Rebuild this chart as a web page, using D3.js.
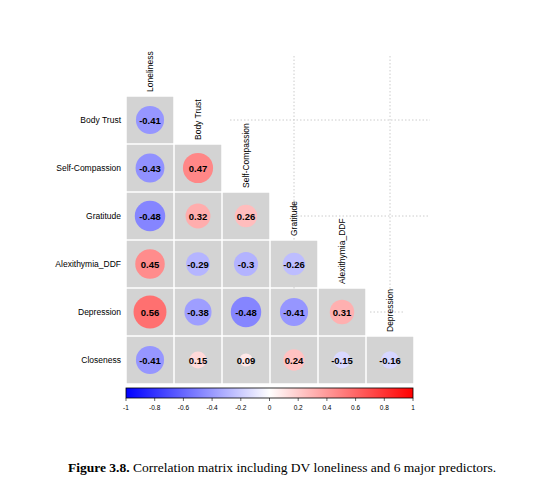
<!DOCTYPE html><html><head><script src="https://cdn.jsdelivr.net/npm/d3@7"></script>
<style>body{margin:0;background:#fff}</style></head><body><svg id="c" width="551" height="498"></svg>
<script>
const rowVars=["Body Trust","Self-Compassion","Gratitude","Alexithymia_DDF","Depression","Closeness"];
const colVars=["Loneliness","Body Trust","Self-Compassion","Gratitude","Alexithymia_DDF","Depression"];
const corr=[
[-0.41],
[-0.43,0.47],
[-0.48,0.32,0.26],
[0.45,-0.29,-0.3,-0.26],
[0.56,-0.38,-0.48,-0.41,0.31],
[-0.41,0.15,0.09,0.24,-0.15,-0.16]];
const legendTicks=[-1,-0.8,-0.6,-0.4,-0.2,0,0.2,0.4,0.6,0.8,1];
const svg=d3.select("#c");
const x=d3.scaleBand().domain(colVars).range([126,414]).padding(0);
const y=d3.scaleBand().domain(rowVars).range([96,384]);
const col=d3.scaleLinear().domain([-1,0,1]).range(["#0000ff","#ffffff","#ff0000"]);
const rad=d3.scaleSqrt().domain([0,1]).range([0,22]);
const dots=svg.append("g").attr("stroke","#ccc").attr("stroke-dasharray","1.5,2").attr("stroke-width",1);
dots.append("line").attr("x1",x(colVars[3])+24).attr("x2",x(colVars[3])+24).attr("y1",56).attr("y2",330);
dots.append("line").attr("x1",x(colVars[5])+24).attr("x2",x(colVars[5])+24).attr("y1",56).attr("y2",290);
dots.append("line").attr("x1",230).attr("x2",430).attr("y1",y(rowVars[0])+24).attr("y2",y(rowVars[0])+24);
dots.append("line").attr("x1",290).attr("x2",430).attr("y1",y(rowVars[2])+24).attr("y2",y(rowVars[2])+24);
dots.append("line").attr("x1",370).attr("x2",403).attr("y1",y(rowVars[4])+24).attr("y2",y(rowVars[4])+24);
corr.forEach((row,i)=>row.forEach((v,j)=>{
 const cx=x(colVars[j]),cy=y(rowVars[i]);
 svg.append("rect").attr("x",cx+0.75).attr("y",cy+0.75).attr("width",x.bandwidth()-1.5).attr("height",y.bandwidth()-1.5).attr("fill","#d3d3d3");
 svg.append("circle").attr("cx",cx+24).attr("cy",cy+24).attr("r",rad(Math.abs(v))).attr("fill",col(v));
 svg.append("text").attr("x",cx+24).attr("y",cy+27.5).attr("text-anchor","middle").attr("font-family","Liberation Sans, Arial").attr("font-size",9.5).attr("font-weight","bold").text(v);
}));
rowVars.forEach(r=>svg.append("text").attr("x",121).attr("y",y(r)+27).attr("text-anchor","end").attr("font-family","Liberation Sans, Arial").attr("font-size",8.5).text(r));
colVars.forEach((c,j)=>{const tx=x(c)+27,ty=96+48*j-4;
 svg.append("text").attr("transform",`translate(${tx},${ty}) rotate(-90)`).attr("font-family","Liberation Sans, Arial").attr("font-size",8.5).text(c);});
// legend
const lx=d3.scaleLinear().domain([-1,1]).range([126,413]);
const defs=svg.append("defs");const g=defs.append("linearGradient").attr("id","lg");
[-1,0,1].forEach(v=>g.append("stop").attr("offset",(v+1)/2).attr("stop-color",col(v)));
svg.append("rect").attr("x",126).attr("y",388).attr("width",287).attr("height",10).attr("fill","url(#lg)").attr("stroke","#000").attr("stroke-width",0.8);
legendTicks.forEach(t=>{
 svg.append("line").attr("x1",lx(t)).attr("x2",lx(t)).attr("y1",398).attr("y2",401).attr("stroke","#000").attr("stroke-width",0.6);
 svg.append("text").attr("x",lx(t)).attr("y",410).attr("text-anchor","middle").attr("font-family","Liberation Sans, Arial").attr("font-size",6.5).text(t);});
const cap=svg.append("text").attr("x",68).attr("y",472).attr("font-family","Liberation Serif, Times New Roman").attr("font-size",13.5);
cap.append("tspan").attr("font-weight","bold").text("Figure 3.8.");
cap.append("tspan").text(" Correlation matrix including DV loneliness and 6 major predictors.");
</script></body></html>
